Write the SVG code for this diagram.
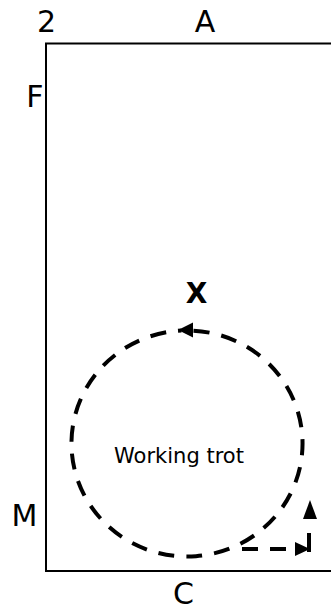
<svg xmlns="http://www.w3.org/2000/svg" width="331" height="610" viewBox="0 0 331 610">
  <style>
    .lbl { font-family: "DejaVu Sans", Verdana, sans-serif; font-size: 30px; fill: #000; text-anchor: middle; }
    .x { font-family: "DejaVu Sans", Verdana, sans-serif; font-size: 28px; font-weight: bold; fill: #000; text-anchor: middle; }
    .note { font-family: "DejaVu Sans", Verdana, sans-serif; font-size: 21px; fill: #000; text-anchor: middle; }
    .dash { fill: none; stroke: #000; stroke-width: 4; }
    .head { fill: #000; stroke: none; }
  </style>
  <rect width="331" height="610" fill="#fff"/>
  <g id="arena">
    <rect x="46" y="43.5" width="320" height="527.5" fill="none" stroke="#000" stroke-width="2"/>
  </g>
  <g id="label-2"><text class="lbl" x="46.5" y="32">2</text></g>
  <g id="label-A"><text class="lbl" x="205" y="32">A</text></g>
  <g id="label-F"><text class="lbl" x="35" y="107">F</text></g>
  <g id="label-M"><text class="lbl" x="24.5" y="526">M</text></g>
  <g id="label-C"><text class="lbl" x="183.5" y="604">C</text></g>
  <g id="label-X"><text class="x" x="196.5" y="303">X</text></g>
  <g id="working-trot"><text class="note" x="179" y="463">Working trot</text></g>
  <g id="connectors">
    <path class="dash" stroke-dasharray="16 12.08" stroke-dashoffset="16"
      d="M178,330.8 A115.5,113 0 0 0 196,556.2 A115.5,113 0 0 0 178,330.8"/>
    <polygon class="head" points="178,330 193,322.5 193,337.5"/>
    <path class="dash" stroke-dasharray="16 12" stroke-dashoffset="16" d="M230,549 L296,549"/>
    <polygon class="head" points="310,549 295,542 295,556"/>
    <path class="dash" d="M309,552 L309,533"/>
    <polygon class="head" points="310,500 303,519 317,519"/>
  </g>
</svg>
